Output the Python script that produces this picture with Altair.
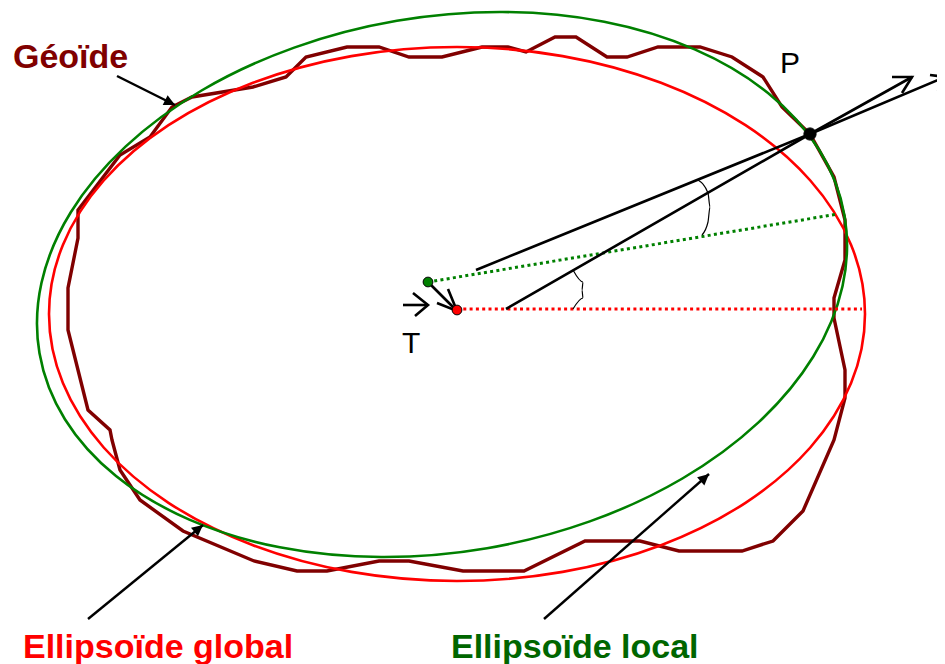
import altair as alt
import pandas as pd

geoid_x = [810,834,845,845,845,834,834,845,845,834,803,773,742,679,640,585,524,463,409,379,327,297,254,183,140,120,112,110,88,68,68,78,78,120,150,172,192,253,286,306,347,379,409,442,482,508,526,555,576,607,627,658,700,732,763,782,810]
geoid_y = [134,177,220,230,260,298,318,370,398,440,511,541,551,551,541,541,571,571,561,561,571,571,561,531,500,470,440,430,410,330,288,238,210,155,137,107,97,87,77,57,47,47,57,57,47,47,52,37,37,57,57,47,47,57,77,107,134]

green_x = [844.5,842.5,813.2,758.5,682.4,589.8,487.1,381.4,279.8,189.3,116,64.9,39.5,41.5,70.8,125.5,201.6,294.2,396.9,502.6,604.2,694.7,768,819.1]
green_y = [215.7,286.2,356.8,422.4,478.5,521.4,548.2,557,547.3,519.6,476,419.2,353.3,282.8,212.2,146.6,90.5,47.6,20.8,12,21.7,49.4,93,149.8]

red_x = [865,851.1,810.3,745.5,661,562.6,457,351.4,253,168.5,103.7,62.9,49,62.9,103.7,168.5,253,351.4,457,562.6,661,745.5,810.3,851.1]
red_y = [314,383.1,447.5,502.8,545.2,571.9,581,571.9,545.2,502.8,447.5,383.1,314,244.9,180.5,125.2,82.8,56.1,47,56.1,82.8,125.2,180.5,244.9]

arc_a_x = [698,708,710,708,702]
arc_a_y = [180,193,207,222,235]
arc_b_x = [573,583,582,583,573]
arc_b_y = [270,282,290,298,309]

# name: (x list, y list)
solid_lines = {
    "ellipsoid_normal": ([476,810,945],[270,134,77]),
    "ellipsoid_normal_head": ([930,945,938],[75,77,91]),
    "global_normal": ([506,810,912],[309,134,77]),
    "global_normal_head": ([892,912,902],[77,77,93]),
    "t_arrow": ([403,428],[305,305]),
    "t_head": ([413,428,415],[293,305,316]),
    "shift": ([428,457],[282,311]),
    "shift_head": ([437,457,448],[303,311,289]),
}
pointer_lines = {
    "geoide": ([117,175],[76,105]),
    "global": ([88,203],[619,525]),
    "local": ([544,709],[619,474]),
}
pointer_tip_x = [175,203,709]
pointer_tip_y = [105,525,474]
pointer_angle = [116.6,50.7,48.7]

green_dot_x, green_dot_y = [428,838],[282,214]
red_dot_x, red_dot_y = [457,862],[309,309]

centre_x = [428,457,810]
centre_y = [282,310,134]
centre_fill = ["#008000","#ff0000","#000000"]
centre_size = [95,95,150]

labels = ["Géoïde","Ellipsoïde global","Ellipsoïde local","P","T"]
label_x = [13,23,451,780,402]
label_y = [68,658,658,73,353]
label_size = [34,34,34,30,30]
label_bold = ["bold","bold","bold","normal","normal"]
label_color = ["#800000","#ff0000","#006600","#000000","#000000"]

X = alt.X("x:Q", axis=None, scale=alt.Scale(domain=[8,937], zero=False, nice=False))
Y = alt.Y("y:Q", axis=None, scale=alt.Scale(domain=[664,8], zero=False, nice=False))

def path_df(xs, ys, seg="a"):
    return pd.DataFrame({"x": xs, "y": ys, "i": range(len(xs)), "seg": seg})

def line(df, **kw):
    return alt.Chart(df).mark_line(**kw).encode(x=X, y=Y, order="i:Q", detail="seg:N")

solid_df = pd.concat([path_df(v[0], v[1], k) for k, v in solid_lines.items()])
pointer_df = pd.concat([path_df(v[0], v[1], k) for k, v in pointer_lines.items()])
arc_df = pd.concat([path_df(arc_a_x, arc_a_y, "a"), path_df(arc_b_x, arc_b_y, "b")])

layers = [
    line(path_df(geoid_x, geoid_y), color="#800000", strokeWidth=3.4, strokeJoin="miter"),
    line(path_df(red_x, red_y), color="#ff0000", strokeWidth=2.6, interpolate="cardinal-closed"),
    line(path_df(green_x, green_y), color="#008000", strokeWidth=2.6, interpolate="cardinal-closed"),
    line(path_df(green_dot_x, green_dot_y), color="#008000", strokeWidth=3, strokeDash=[3,3.3]),
    line(path_df(red_dot_x, red_dot_y), color="#ff0000", strokeWidth=3, strokeDash=[3,3.3]),
    line(arc_df, color="#000000", strokeWidth=1.2, interpolate="monotone"),
    line(solid_df, color="#000000", strokeWidth=2.6),
    line(pointer_df, color="#000000", strokeWidth=2.4),
]

tip_df = pd.DataFrame({"x": pointer_tip_x, "y": pointer_tip_y, "a": pointer_angle})
layers.append(
    alt.Chart(tip_df).mark_point(filled=True, opacity=1, color="#000000", size=400,
                                 strokeWidth=0, shape="M0,0L-0.55,1.1L0.55,1.1Z")
    .encode(x=X, y=Y, angle=alt.Angle("a:Q", scale=None))
)

dots_df = pd.DataFrame({"x": centre_x, "y": centre_y, "f": centre_fill, "s": centre_size})
layers.append(
    alt.Chart(dots_df).mark_point(filled=True, opacity=1, stroke="#000000", strokeWidth=1, shape="circle")
    .encode(x=X, y=Y, fill=alt.Fill("f:N", scale=None), size=alt.Size("s:Q", scale=None))
)

for t, lx, ly, fs, w, c in zip(labels, label_x, label_y, label_size, label_bold, label_color):
    layers.append(
        alt.Chart(pd.DataFrame({"x": [lx], "y": [ly], "t": [t]}))
        .mark_text(align="left", baseline="alphabetic", font="Liberation Sans",
                   fontSize=fs, fontWeight=w, color=c)
        .encode(x=X, y=Y, text="t:N")
    )

chart = (
    alt.layer(*layers)
    .properties(width=929, height=656, padding=0, autosize=alt.AutoSizeParams(type="none"), background="#ffffff")
    .configure_view(stroke=None)
)
chart.save("out.html", embed_options={"renderer": "svg", "actions": False})
